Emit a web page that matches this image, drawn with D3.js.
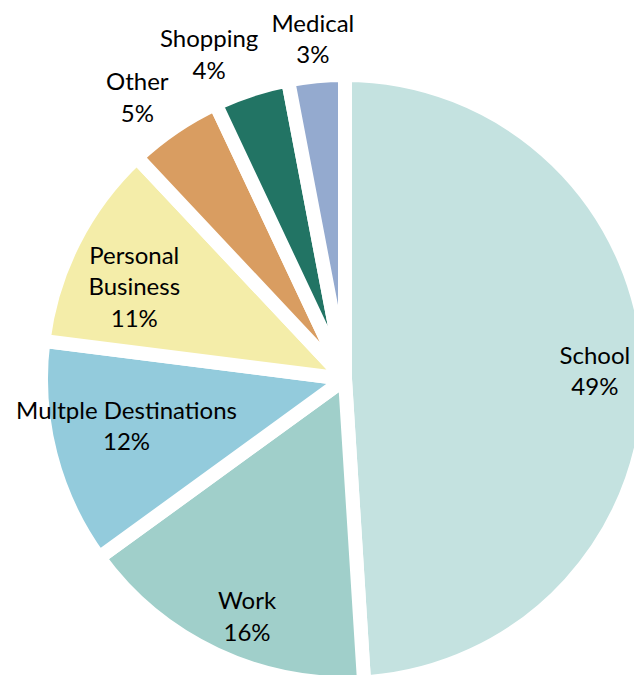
<!DOCTYPE html>
<html>
<head>
<meta charset="utf-8">
<script src="https://cdn.jsdelivr.net/npm/d3@7"></script>
<style>
  html, body { margin: 0; padding: 0; background: #fff; overflow: hidden; }
  svg { display: block; }
  text { font-family: Lato, "Open Sans", sans-serif; fill: #000; }
</style>
</head>
<body>
<svg id="chart" width="634" height="675"></svg>
<script>
// Trip purposes, share of trips (%)
const categories = ["School", "Work", "Multple Destinations", "Personal Business", "Other", "Shopping", "Medical"];
const shares = [49, 16, 12, 11, 5, 4, 3];
const sliceColors = ["#c4e2e0", "#a0cfca", "#93cbdc", "#f4eda9", "#d99d61", "#227464", "#94aacf"];
// how each category label is broken over lines
const labelLines = [["School"], ["Work"], ["Multple Destinations"], ["Personal", "Business"], ["Other"], ["Shopping"], ["Medical"]];

const W = 634, H = 675;
const cx = 345, cy = 379;
const radius = 297;      // visible radius of the slices
const gap = 14;          // white separation between slices

// label anchor: distance from centre and angular nudge (degrees) from the slice's mid-angle
const labelPlacement = {
  "School": { r: 250, da: 0 },
  "Work": { r: 257, da: -2.8 },
  "Multple Destinations": { r: 223.5, da: 2.2 },
  "Personal Business": { r: 230, da: -3.4 },
  "Other": { r: 350, da: -2.2 },
  "Shopping": { r: 352, da: -4.7 },
  "Medical": { r: 341.5, da: 0 }
};

const fontSize = 24, lineStep = 31.5, capHeight = 17;

const data = categories.map((c, i) => ({ category: c, value: shares[i], color: sliceColors[i], lines: labelLines[i] }));

const pie = d3.pie().value(d => d.value).sort(null).startAngle(0).endAngle(2 * Math.PI);
const arc = d3.arc().innerRadius(0).outerRadius(radius + gap / 2);

const svg = d3.select("#chart");
const g = svg.append("g").attr("transform", `translate(${cx},${cy})`);

const arcs = pie(data);

g.selectAll("path.slice")
  .data(arcs)
  .join("path")
  .attr("class", "slice")
  .attr("d", arc)
  .attr("fill", d => d.data.color)
  .attr("stroke", "#fff")
  .attr("stroke-width", gap)
  .attr("stroke-linejoin", "round");

const labels = g.selectAll("g.label")
  .data(arcs)
  .join("g")
  .attr("class", "label")
  .attr("transform", d => {
    const p = labelPlacement[d.data.category];
    const a = (d.startAngle + d.endAngle) / 2 + p.da * Math.PI / 180;
    const x = p.r * Math.sin(a), y = -p.r * Math.cos(a);
    return `translate(${x},${y})`;
  });

labels.each(function(d) {
  const lines = d.data.lines.concat([d.data.value + "%"]);
  const n = lines.length;
  // vertically centre the block from cap top of first line to baseline of last line
  const firstBaseline = -((n - 1) * lineStep - capHeight) / 2;
  const t = d3.select(this).append("text")
    .attr("text-anchor", "middle")
    .attr("font-size", fontSize);
  lines.forEach((ln, i) => {
    t.append("tspan").attr("x", 0).attr("y", firstBaseline + i * lineStep).text(ln);
  });
});
</script>
</body>
</html>
